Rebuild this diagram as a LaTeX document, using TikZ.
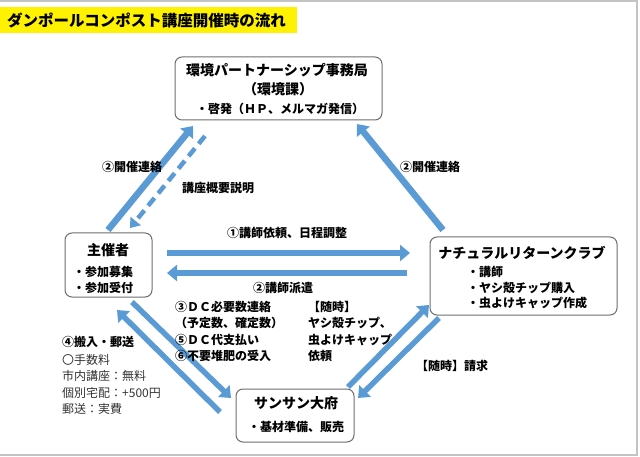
\documentclass[tikz,border=0pt]{standalone}
\usepackage{fontspec}
\setmainfont{Noto Sans CJK JP}
\usetikzlibrary{arrows.meta}
\definecolor{arrowblue}{HTML}{5B9BD5}
\definecolor{boxline}{HTML}{6E6E6E}
\definecolor{framegray}{HTML}{C4C4C4}
\tikzset{
  box/.style={draw=boxline, line width=1pt, rounded corners=7pt, fill=white, inner sep=0pt},
  blk/.style={draw=arrowblue, line width=6.5pt, -{Triangle[length=10pt,width=16pt]}},
  blkdash/.style={draw=arrowblue, line width=4.5pt, dash pattern=on 10pt off 6pt, -{Triangle[length=9pt,width=13pt]}},
  ttl/.style={font=\bfseries\fontsize{14}{16}\selectfont, inner sep=0pt},
  lbl/.style={font=\bfseries\fontsize{12}{16.5}\selectfont, inner sep=0pt, align=left},
  lblr/.style={font=\fontsize{12}{16.5}\selectfont, inner sep=0pt, align=left, text=black!80},
}
\begin{document}
\begin{tikzpicture}[x=1pt,y=-1pt]
\useasboundingbox (0,0) rectangle (640,457);
% frame
\draw[framegray, line width=2pt] (0,1) -- (637,1) -- (637,455) -- (0,455);
% title
\node[fill=yellow, anchor=west, inner xsep=7pt, minimum height=26pt, text width=283pt,
      font=\bfseries\fontsize{15.5}{17}\selectfont] (title) at (0,20) {ダンポールコンポスト講座開催時の流れ};

% boxes
\node[box, minimum width=207pt, minimum height=63pt] (env) at (278.5,88.5) {};
\node[box, minimum width=87pt, minimum height=64pt] (host) at (108.5,265) {};
\node[box, minimum width=187pt, minimum height=78pt] (nrc) at (523.5,276) {};
\node[box, minimum width=118pt, minimum height=53pt] (sun) at (295,415.5) {};

% box texts
\node[ttl] (envT1) at (277,70) {環境パートナーシップ事務局};
\node[ttl] (envT2) at (278,89) {（環境課）};
\node[lbl] (envT3) at (280,109) {・啓発（ＨＰ、メルマガ発信）};

\node[ttl] (hostT1) at (108,250) {主催者};
\node[lbl, anchor=west] (hostT2) at (73,272) {・参加募集};
\node[lbl, anchor=west] (hostT3) at (73,288) {・参加受付};

\node[ttl] (nrcT1) at (522,253) {ナチュラルリターンクラブ};
\node[lbl, anchor=west] (nrcT2) at (467,272) {・講師};
\node[lbl, anchor=west] (nrcT3) at (467,287.5) {・ヤシ殻チップ購入};
\node[lbl, anchor=west] (nrcT4) at (467,303) {・虫よけキャップ作成};

\node[ttl] (sunT1) at (296,403) {サンサン大府};
\node[lbl] (sunT2) at (296,427) {・基材準備、販売};

% arrow end points
\coordinate (a1s) at (108,230);  \coordinate (a1e) at (193,126);
\coordinate (a2s) at (205,136);  \coordinate (a2e) at (130,228);
\coordinate (a3s) at (443,230);  \coordinate (a3e) at (357,124);
\coordinate (a4s) at (167,253);  \coordinate (a4e) at (410,253);
\coordinate (a5s) at (407,273);  \coordinate (a5e) at (167,273);
\coordinate (a6s) at (132,302);  \coordinate (a6e) at (231,398);
\coordinate (a7s) at (220,412);  \coordinate (a7e) at (117,310);
\coordinate (a8s) at (348,387);  \coordinate (a8e) at (429,305);
\coordinate (a9s) at (439,318);  \coordinate (a9e) at (358,398);

\draw[blk] (a1s) -- (a1e);
\draw[blkdash] (a2s) -- (a2e);
\draw[blk] (a3s) -- (a3e);
\draw[blk] (a4s) -- (a4e);
\draw[blk] (a5s) -- (a5e);
\draw[blk, line width=5.5pt] (a6s) -- (a6e);
\draw[blk, line width=5.5pt] (a7s) -- (a7e);
\draw[blk, line width=5.5pt] (a8s) -- (a8e);
\draw[blk, line width=5.5pt] (a9s) -- (a9e);

% labels
\node[lbl] (l1) at (132,167) {②開催連絡};
\node[lbl] (l2) at (218,188) {講座概要説明};
\node[lbl] (l3) at (430,167) {②開催連絡};
\node[lbl] (l4) at (287,233) {①講師依頼、日程調整};
\node[lbl] (l5) at (283,288) {②講師派遣};
\node[lbl, anchor=north west] (l6) at (175,301) {③ＤＣ必要数連絡\\（予定数、確定数）\\⑤ＤＣ代支払い\\⑥不要堆肥の受入};
\node[lbl, anchor=north west] (l7) at (308,301) {【随時】\\ヤシ殻チップ、\\虫よけキャップ\\依頼};
\node[lbl, anchor=west] (l8) at (62,342) {④搬入・郵送};
\node[lblr, anchor=north west] (l9) at (62,354) {〇手数料\\市内講座：無料\\個別宅配：+500円\\郵送：実費};
\node[lbl] (l10) at (452,366) {【随時】請求};
\end{tikzpicture}
\end{document}
